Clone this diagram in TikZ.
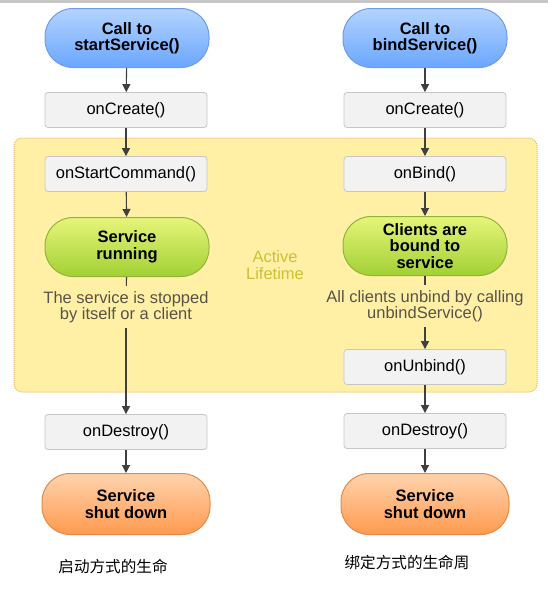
\documentclass[tikz,border=0pt]{standalone}
\usepackage{fontspec}
\setmainfont{Liberation Sans}
\newfontfamily\cjk{Noto Sans CJK SC}
\usepackage{tikz}
\usetikzlibrary{arrows.meta,shapes}

\definecolor{blueTop}{HTML}{B4D4FF}
\definecolor{blueBot}{HTML}{6AA6FF}
\definecolor{blueLine}{HTML}{6F9BEA}
\definecolor{greenTop}{HTML}{E6F57A}
\definecolor{greenBot}{HTML}{A2D034}
\definecolor{greenLine}{HTML}{93B33E}
\definecolor{orangeTop}{HTML}{FFD3AE}
\definecolor{orangeBot}{HTML}{FF9A4E}
\definecolor{orangeLine}{HTML}{E28A4A}
\definecolor{boxFill}{HTML}{F2F2F2}
\definecolor{boxLine}{HTML}{C6C6C6}
\definecolor{lifeFill}{HTML}{FFF0A6}
\definecolor{lifeLine}{HTML}{E9B46A}
\definecolor{lifeText}{HTML}{C9C232}
\definecolor{arrowGray}{HTML}{3F3F3F}
\definecolor{noteGray}{HTML}{5A5248}

\begin{document}
\begin{tikzpicture}[x=1pt,y=-1pt,
    every node/.style={font=\fontsize{16.5}{16.5}\selectfont,align=center,inner sep=0pt},
    terminal/.style={rounded corners=28pt,minimum width=164pt,minimum height=59pt,line width=1pt,font=\fontsize{16.5}{16.5}\selectfont\bfseries},
    callbox/.style={terminal,draw=blueLine,top color=blueTop,bottom color=blueBot},
    runbox/.style={terminal,draw=greenLine,top color=greenTop,bottom color=greenBot},
    endbox/.style={terminal,draw=orangeLine,top color=orangeTop,bottom color=orangeBot,minimum width=168pt,minimum height=61pt},
    stepbox/.style={draw=boxLine,fill=boxFill,rounded corners=3pt,minimum width=162pt,minimum height=35pt,line width=0.8pt},
    note/.style={text=noteGray,inner ysep=5pt},
    flow/.style={draw=arrowGray,line width=1.1pt,-{Triangle[length=8pt,width=8pt]}},
    link/.style={draw=arrowGray,line width=1.1pt}]
\useasboundingbox (0,0) rectangle (548,589);
\fill[boxLine] (0,0) rectangle (548,3);
\draw[lifeLine,fill=lifeFill,densely dotted,line width=1pt,rounded corners=8pt] (14,138) rectangle (537,392);
\node[text=lifeText] (active) at (275,265) {Active\\Lifetime};

% started service
\node[callbox] (startcall) at (127,38) {Call to\\startService()};
\node[stepbox] (createA) at (126,110) {onCreate()};
\node[stepbox] (startcmd) at (126,174) {onStartCommand()};
\node[runbox] (running) at (127,247) {Service\\running};
\node[note] (stopnote) at (126,307) {The service is stopped\\by itself or a client};
\node[stepbox] (destroyA) at (126,432) {onDestroy()};
\node[endbox] (shutA) at (126,504) {Service\\shut down};
\node (titleA) at (113,566) {\cjk\fontsize{15.6}{15.6}\selectfont 启动方式的生命};

% bound service
\node[callbox] (bindcall) at (425,38) {Call to\\bindService()};
\node[stepbox] (createB) at (425,110) {onCreate()};
\node[stepbox] (bind) at (425,174) {onBind()};
\node[runbox] (bound) at (425,246) {Clients are\\bound to\\service};
\node[note] (unbindnote) at (425,306) {All clients unbind by calling\\unbindService()};
\node[stepbox] (unbind) at (425,367) {onUnbind()};
\node[stepbox] (destroyB) at (425,431) {onDestroy()};
\node[endbox] (shutB) at (425,504) {Service\\shut down};
\node (titleB) at (407,563) {\cjk\fontsize{15.6}{15.6}\selectfont 绑定方式的生命周};

\draw[flow] (startcall) -- (createA);
\draw[flow] (createA) -- (startcmd);
\draw[flow] (startcmd) -- (running);
\draw[link] (running) -- (stopnote);
\draw[flow] (stopnote) -- (destroyA);
\draw[flow] (destroyA) -- (shutA);

\draw[flow] (bindcall) -- (createB);
\draw[flow] (createB) -- (bind);
\draw[flow] (bind) -- (bound);
\draw[link] (bound) -- (unbindnote);
\draw[flow] (unbindnote) -- (unbind);
\draw[flow] (unbind) -- (destroyB);
\draw[flow] (destroyB) -- (shutB);
\end{tikzpicture}
\end{document}
